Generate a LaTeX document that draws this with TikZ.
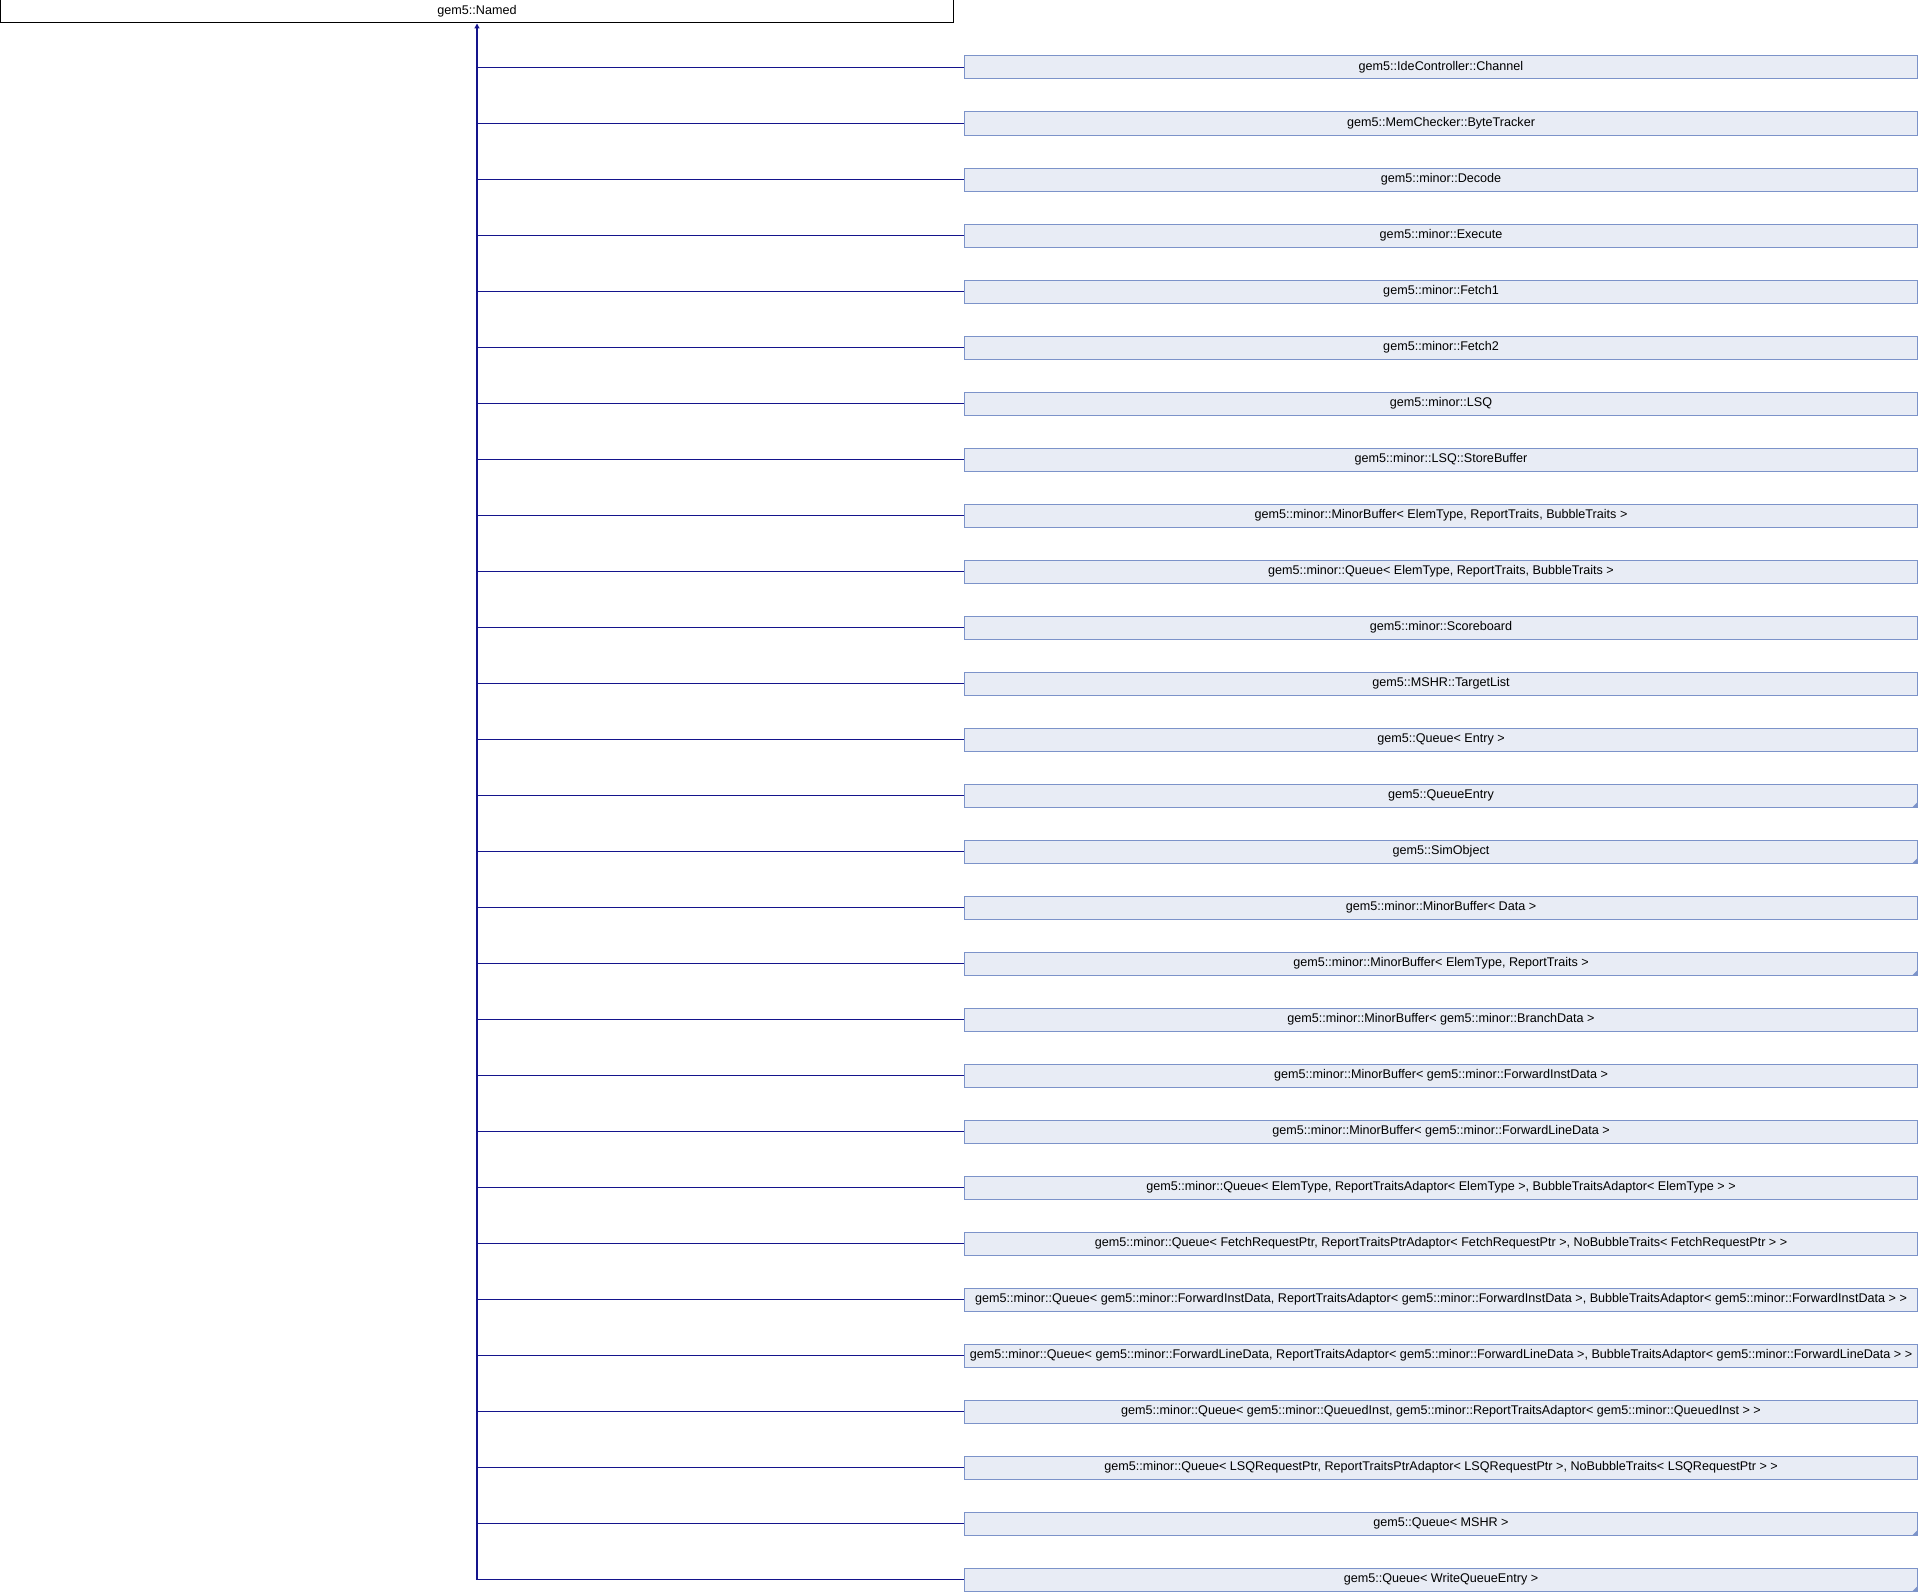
\documentclass[tikz,border=0pt]{standalone}
\usepackage{fontspec}
\setmainfont{Liberation Sans}
\usetikzlibrary{arrows.meta}
\definecolor{boxfill}{HTML}{E8ECF5}
\definecolor{boxborder}{HTML}{7C93C9}
\definecolor{edgeblue}{RGB}{20,20,140}
\tikzset{
  base/.style={minimum width=953pt, minimum height=23pt, inner sep=0pt, line width=1pt,
    font=\fontsize{12.6}{14}\selectfont},
  topbox/.style={base, draw=black, fill=white},
  childbox/.style={base, draw=boxborder, fill=boxfill},
  edge/.style={draw=edgeblue, line width=1.4pt},
  marker/.style={fill=boxborder},
}
\begin{document}
\begin{tikzpicture}[x=1pt,y=-1pt]
\useasboundingbox (0,0) rectangle (1918,1592);
\node[topbox] (named) at (477,11.5) {gem5::Named};
\foreach \i/\t in {
 1/{gem5::IdeController::Channel},
 2/{gem5::MemChecker::ByteTracker},
 3/{gem5::minor::Decode},
 4/{gem5::minor::Execute},
 5/{gem5::minor::Fetch1},
 6/{gem5::minor::Fetch2},
 7/{gem5::minor::LSQ},
 8/{gem5::minor::LSQ::StoreBuffer},
 9/{gem5::minor::MinorBuffer< ElemType, ReportTraits, BubbleTraits >},
 10/{gem5::minor::Queue< ElemType, ReportTraits, BubbleTraits >},
 11/{gem5::minor::Scoreboard},
 12/{gem5::MSHR::TargetList},
 13/{gem5::Queue< Entry >},
 14/{gem5::QueueEntry},
 15/{gem5::SimObject},
 16/{gem5::minor::MinorBuffer< Data >},
 17/{gem5::minor::MinorBuffer< ElemType, ReportTraits >},
 18/{gem5::minor::MinorBuffer< gem5::minor::BranchData >},
 19/{gem5::minor::MinorBuffer< gem5::minor::ForwardInstData >},
 20/{gem5::minor::MinorBuffer< gem5::minor::ForwardLineData >},
 21/{gem5::minor::Queue< ElemType, ReportTraitsAdaptor< ElemType >, BubbleTraitsAdaptor< ElemType > >},
 22/{gem5::minor::Queue< FetchRequestPtr, ReportTraitsPtrAdaptor< FetchRequestPtr >, NoBubbleTraits< FetchRequestPtr > >},
 23/{gem5::minor::Queue< gem5::minor::ForwardInstData, ReportTraitsAdaptor< gem5::minor::ForwardInstData >, BubbleTraitsAdaptor< gem5::minor::ForwardInstData > >},
 24/{gem5::minor::Queue< gem5::minor::ForwardLineData, ReportTraitsAdaptor< gem5::minor::ForwardLineData >, BubbleTraitsAdaptor< gem5::minor::ForwardLineData > >},
 25/{gem5::minor::Queue< gem5::minor::QueuedInst, gem5::minor::ReportTraitsAdaptor< gem5::minor::QueuedInst > >},
 26/{gem5::minor::Queue< LSQRequestPtr, ReportTraitsPtrAdaptor< LSQRequestPtr >, NoBubbleTraits< LSQRequestPtr > >},
 27/{gem5::Queue< MSHR >},
 28/{gem5::Queue< WriteQueueEntry >}
}{
  \node[childbox] (c\i) at (1441,{67.5+56*(\i-1)}) {\t};
  \draw[edge] (named.south |- c\i.west) -- (c\i.west);
}
\draw[edge,-{Stealth[length=5pt,width=5pt,inset=0pt]}] (named.south |- c28.west) -- (named.south);
\foreach \i in {14,15,17,27,28}{
  \fill[marker] (c\i.south east) -- ++(-6,0) -- ++(6,-6) -- cycle;
}
\end{tikzpicture}
\end{document}
